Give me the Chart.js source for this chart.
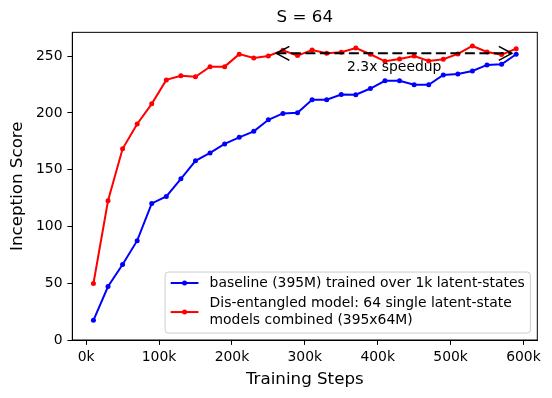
<!DOCTYPE html>
<html><head><meta charset="utf-8">
<script src="https://cdn.jsdelivr.net/npm/chart.js@4.4.0/dist/chart.umd.min.js"></script>
<style>html,body{margin:0;padding:0;background:#fff}canvas{display:block}</style>
</head><body>
<canvas id="c" width="552" height="398"></canvas>
<script>
// ---- data ----
const trainingSteps = [10000, 30000, 50000, 70000, 90000, 110000, 130000, 150000, 170000, 190000,
  210000, 230000, 250000, 270000, 290000, 310000, 330000, 350000, 370000, 390000,
  410000, 430000, 450000, 470000, 490000, 510000, 530000, 550000, 570000, 590000];
const baselineScores = [17.3, 47.1, 66.5, 87.5, 120.3, 126.4, 142.0, 157.8, 164.8, 172.7,
  178.5, 183.8, 194.0, 199.6, 200.2, 211.6, 211.6, 216.2, 216.0, 221.5,
  228.3, 228.3, 224.8, 224.8, 233.5, 234.4, 237.0, 242.3, 242.9, 251.7];
const disentangledScores = [49.8, 122.7, 168.4, 190.3, 208.0, 229.1, 232.7, 231.8, 240.8, 240.8,
  251.8, 248.5, 250.2, 255.2, 250.5, 255.5, 252.6, 253.5, 257.2, 251.7,
  245.5, 247.6, 250.2, 245.8, 247.3, 252.0, 259.0, 253.7, 251.4, 256.6];
const seriesLabels = [
  ["baseline (395M) trained over 1k latent-states"],
  ["Dis-entangled model: 64 single latent-state", "models combined (395x64M)"]
];
const xTicks = [0, 100000, 200000, 300000, 400000, 500000, 600000];
const yTicks = [0, 50, 100, 150, 200, 250];
const speedupArrow = { fromStep: 261000, toStep: 584000, score: 252.5 };
const speedupText = { text: "2.3x speedup", step: 358000, score: 240.5 };

const FONT = '"DejaVu Sans", "Liberation Sans", sans-serif';
const colors = ['#0000ff', '#ff0000'];

const frameAndAnnot = {
  id: 'frameAndAnnot',
  afterDatasetsDraw(chart) {
    const {ctx, chartArea: a, scales: {x, y}} = chart;
    ctx.save();
    // annotation arrow
    const x1 = x.getPixelForValue(speedupArrow.fromStep);
    const x2 = x.getPixelForValue(speedupArrow.toStep);
    const yy = y.getPixelForValue(speedupArrow.score);
    ctx.strokeStyle = '#000';
    ctx.lineWidth = 2;
    ctx.setLineDash([10, 4.5]);
    ctx.beginPath(); ctx.moveTo(x1, yy); ctx.lineTo(x2, yy); ctx.stroke();
    ctx.setLineDash([]);
    ctx.lineWidth = 1.6;
    const hl = 13, hw = 7;
    ctx.beginPath();
    ctx.moveTo(x1 + hl, yy - hw); ctx.lineTo(x1, yy); ctx.lineTo(x1 + hl, yy + hw);
    ctx.moveTo(x2 - hl, yy - hw); ctx.lineTo(x2, yy); ctx.lineTo(x2 - hl, yy + hw);
    ctx.stroke();
    ctx.fillStyle = '#000';
    ctx.font = '13.9px ' + FONT;
    ctx.textAlign = 'left'; ctx.textBaseline = 'middle';
    ctx.fillText(speedupText.text, x.getPixelForValue(speedupText.step), y.getPixelForValue(speedupText.score));
    // frame
    ctx.lineWidth = 1;
    ctx.strokeRect(a.left, a.top, a.right - a.left, a.bottom - a.top);
    ctx.restore();
  },
  afterDraw(chart) {
    const {ctx, chartArea: a} = chart;
    const fs = 13.9;
    ctx.save();
    ctx.font = fs + 'px ' + FONT;
    let maxW = 0;
    seriesLabels.forEach(ls => ls.forEach(t => { maxW = Math.max(maxW, ctx.measureText(t).width); }));
    const pad = 0.4 * fs, handle = 2 * fs, htp = 0.8 * fs, lineH = 16.7, rowGap = 4;
    const boxW = pad * 2 + handle + htp + maxW;
    const boxH = 61;
    const bx = a.right - 0.5 * fs - boxW;
    const by = a.bottom - 0.5 * fs - boxH;
    // box
    const r = 3;
    ctx.beginPath();
    ctx.moveTo(bx + r, by);
    ctx.arcTo(bx + boxW, by, bx + boxW, by + boxH, r);
    ctx.arcTo(bx + boxW, by + boxH, bx, by + boxH, r);
    ctx.arcTo(bx, by + boxH, bx, by, r);
    ctx.arcTo(bx, by, bx + boxW, by, r);
    ctx.closePath();
    ctx.fillStyle = 'rgba(255,255,255,0.8)';
    ctx.fill();
    ctx.strokeStyle = '#cccccc';
    ctx.lineWidth = 1;
    ctx.stroke();
    let cy = by + 2.6;
    seriesLabels.forEach((ls, i) => {
      const h = ls.length * lineH;
      const mid = cy + h / 2;
      const hx1 = bx + pad, hx2 = bx + pad + handle;
      ctx.strokeStyle = colors[i]; ctx.lineWidth = 2;
      ctx.beginPath(); ctx.moveTo(hx1, mid); ctx.lineTo(hx2, mid); ctx.stroke();
      ctx.fillStyle = colors[i];
      ctx.beginPath(); ctx.arc((hx1 + hx2) / 2, mid, 2.5, 0, Math.PI * 2); ctx.fill();
      ctx.fillStyle = '#000';
      ctx.textAlign = 'left'; ctx.textBaseline = 'middle';
      ls.forEach((t, k) => ctx.fillText(t, hx2 + htp, cy + lineH * (k + 0.5)));
      cy += h + rowGap;
    });
    ctx.restore();
  }
};

const mk = (vals) => trainingSteps.map((s, i) => ({x: s, y: vals[i]}));

new Chart(document.getElementById('c'), {
  type: 'line',
  data: {
    datasets: [
      {label: seriesLabels[0].join(' '), data: mk(baselineScores), borderColor: colors[0], backgroundColor: colors[0],
       borderWidth: 2, pointRadius: 2.5, pointBorderWidth: 0, pointBackgroundColor: colors[0], tension: 0},
      {label: seriesLabels[1].join(' '), data: mk(disentangledScores), borderColor: colors[1], backgroundColor: colors[1],
       borderWidth: 2, pointRadius: 2.5, pointBorderWidth: 0, pointBackgroundColor: colors[1], tension: 0}
    ]
  },
  options: {
    responsive: false,
    animation: false,
    devicePixelRatio: 1,
    layout: {padding: {left: 0, right: 14.7, top: 0, bottom: 0}},
    plugins: {
      legend: {display: false},
      tooltip: {enabled: false},
      title: {display: true, text: 'S = 64', fullSize: false, color: '#000',
        font: {family: FONT, size: 16.7, weight: 'normal'}, padding: {top: 8, bottom: 4.3}}
    },
    scales: {
      x: {
        type: 'linear', min: -19000, max: 619000,
        afterFit(s) { s.height = 58; },
        afterBuildTicks(s) { s.ticks = xTicks.map(v => ({value: v})); },
        ticks: {callback: v => (v / 1000) + 'k', color: '#000', font: {family: FONT, size: 13.9},
          padding: 4, maxRotation: 0, autoSkip: false},
        grid: {drawOnChartArea: false, drawTicks: true, tickLength: 4.9, color: '#000'},
        border: {display: true, color: '#000', width: 1},
        title: {display: true, text: 'Training Steps', color: '#000', font: {family: FONT, size: 16.7},
          padding: {top: 0, bottom: 8}}
      },
      y: {
        min: 0, max: 271,
        afterFit(s) { s.width = 72.3; },
        afterBuildTicks(s) { s.ticks = yTicks.map(v => ({value: v})); },
        ticks: {color: '#000', font: {family: FONT, size: 13.9}, padding: 4.9, autoSkip: false},
        grid: {drawOnChartArea: false, drawTicks: true, tickLength: 4.9, color: '#000'},
        border: {display: true, color: '#000', width: 1},
        title: {display: true, text: 'Inception Score', color: '#000', font: {family: FONT, size: 16.7},
          padding: {top: 8, bottom: 0}}
      }
    }
  },
  plugins: [frameAndAnnot]
});
</script>
</body></html>
